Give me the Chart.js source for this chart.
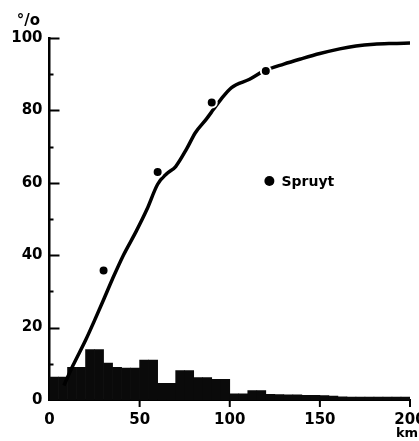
<!DOCTYPE html>
<html>
<head>
<meta charset="utf-8">
<script src="https://cdn.jsdelivr.net/npm/chart.js@4.4.1/dist/chart.umd.min.js"></script>
<style>
  html, body { margin: 0; padding: 0; background: #fff; }
  #wrap { width: 419px; height: 441px; position: relative; }
</style>
</head>
<body>
<div id="wrap"><canvas id="chart"></canvas></div>
<script>
// Histogram: share of trips (%) per 5 km distance bin
const binStarts = [0, 5, 10, 15, 20, 25, 30, 35, 40, 45, 50, 55, 60, 65, 70, 75, 80, 85, 90, 95,
                   100, 105, 110, 115, 120, 125, 130, 135, 140, 145, 150, 155, 160, 165, 170, 175, 180, 185, 190, 195];
const binShares = [6.3, 6.3, 9.0, 9.0, 13.9, 13.9, 10.2, 9.0, 8.8, 8.8, 11.0, 11.0, 4.6, 4.6, 8.1, 8.1, 6.2, 6.2, 5.7, 5.7,
                   1.7, 1.7, 2.6, 2.6, 1.6, 1.5, 1.4, 1.4, 1.3, 1.3, 1.2, 1.1, 0.9, 0.8, 0.8, 0.8, 0.8, 0.8, 0.8, 0.8];

// Cumulative curve (%)
const curveKm  = [8, 13, 20, 25, 30, 35, 41, 48, 54, 60, 65, 70, 76, 81, 87, 91, 95, 101, 111, 119, 130, 140, 150, 161, 170, 180, 190, 200];
const curvePct = [4, 9.5, 16.5, 22, 27.7, 33.5, 40, 46.5, 52.6, 59.6, 62.5, 64.5, 69.3, 73.9, 77.6, 80.3, 83, 86.3, 88.6, 90.9, 92.8, 94.3, 95.7, 97, 97.8, 98.3, 98.5, 98.6];

// Spruyt observations
const spruytKm  = [30, 60, 90, 120];
const spruytPct = [35.8, 63, 82.2, 90.9];

const xTicks = [0, 50, 100, 150, 200];
const yTicks = [0, 20, 40, 60, 80, 100];

const FONT = 'DejaVu Sans';

// inner ticks, unit labels and the legend
const decorations = {
    id: 'decorations',
    afterDraw(chart) {
        const { ctx, chartArea, scales: { x, y } } = chart;
        ctx.save();
        ctx.strokeStyle = '#000';
        ctx.fillStyle = '#000';
        ctx.lineWidth = 2;
        ctx.beginPath();
        for (let v = 10; v <= 100; v += 10) {
            const py = Math.round(y.getPixelForValue(v)) + 0.5;
            const len = v % 20 === 0 ? 10 : 4;
            ctx.moveTo(chartArea.left, py);
            ctx.lineTo(chartArea.left + len, py);
        }
        xTicks.slice(1).forEach(v => {
            const px = x.getPixelForValue(v);
            ctx.moveTo(px, chartArea.bottom);
            ctx.lineTo(px, chartArea.bottom + 7);
        });
        ctx.stroke();

        ctx.font = 'bold 15px "' + FONT + '"';
        ctx.textAlign = 'center';
        ctx.textBaseline = 'middle';
        ctx.fillText('°/o', chartArea.left - 21, chartArea.top - 17);

        ctx.font = 'bold 13px "' + FONT + '"';
        ctx.fillText('km', x.getPixelForValue(200) - 3, chartArea.bottom + 34);

        // legend
        const lx = x.getPixelForValue(122);
        const ly = y.getPixelForValue(60.5);
        ctx.beginPath();
        ctx.arc(lx, ly, 5, 0, Math.PI * 2);
        ctx.fill();
        ctx.font = 'bold 14px "' + FONT + '"';
        ctx.textAlign = 'left';
        ctx.fillText('Spruyt', lx + 12, ly + 1);
        ctx.restore();
    }
};

new Chart(document.getElementById('chart'), {
    type: 'bar',
    data: {
        datasets: [
            {
                type: 'scatter',
                data: spruytKm.map((v, i) => ({ x: v, y: spruytPct[i] })),
                pointRadius: 5,
                pointBackgroundColor: '#000',
                pointBorderColor: '#fff',
                pointBorderWidth: 2,
                order: 1
            },
            {
                type: 'line',
                data: curveKm.map((v, i) => ({ x: v, y: curvePct[i] })),
                borderColor: '#000',
                borderWidth: 3.5,
                pointRadius: 0,
                cubicInterpolationMode: 'monotone',
                fill: false,
                order: 2
            },
            {
                type: 'bar',
                data: binStarts.map((v, i) => ({ x: v + 2.5, y: binShares[i] })),
                backgroundColor: '#0a0a0a',
                borderWidth: 0,
                barPercentage: 1,
                categoryPercentage: 1,
                order: 3
            }
        ]
    },
    options: {
        responsive: true,
        maintainAspectRatio: false,
        animation: false,
        layout: { padding: { top: 38, right: 9, left: 0, bottom: 0 } },
        plugins: {
            legend: { display: false },
            tooltip: { enabled: false }
        },
        scales: {
            x: {
                type: 'linear',
                min: 0,
                max: 200,
                offset: false,
                afterBuildTicks: s => { s.ticks = xTicks.map(v => ({ value: v })); },
                afterFit: s => { s.height = 41; s.paddingLeft = 0; s.paddingRight = 0; },
                grid: { display: false, drawTicks: false },
                border: { display: true, color: '#000', width: 2 },
                ticks: {
                    color: '#000',
                    padding: 11,
                    maxRotation: 0,
                    font: { family: FONT, size: 15, weight: 'bold' }
                }
            },
            y: {
                min: 0,
                max: 100,
                afterBuildTicks: s => { s.ticks = yTicks.map(v => ({ value: v })); },
                afterFit: s => { s.width = 49.5; s.paddingTop = 0; s.paddingBottom = 0; },
                grid: { display: false, drawTicks: false },
                border: { display: true, color: '#000', width: 2.5 },
                ticks: {
                    color: '#000',
                    padding: 7,
                    font: { family: FONT, size: 15, weight: 'bold' }
                }
            }
        }
    },
    plugins: [decorations]
});
</script>
</body>
</html>
